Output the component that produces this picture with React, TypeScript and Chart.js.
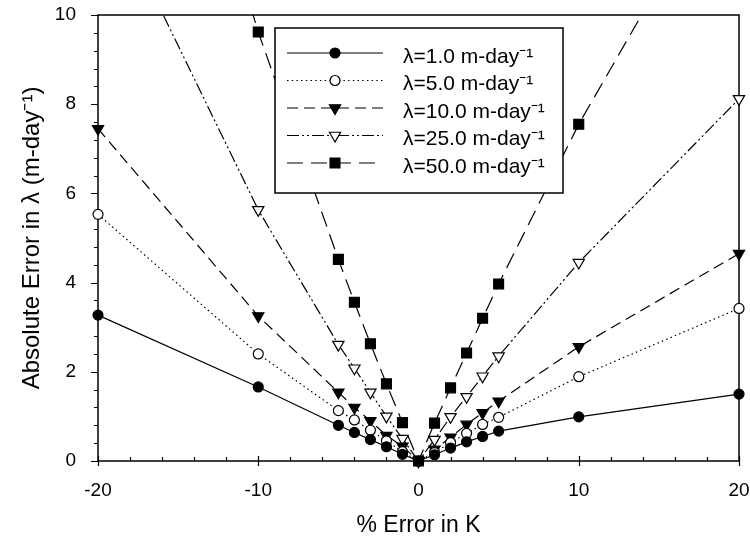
import React, { useEffect, useRef } from "react";
import { Chart, registerables } from "chart.js";

Chart.register(...registerables);

// ---- data ----
const errorK = [-20, -10, -5, -4, -3, -2, -1, 0, 1, 2, 3, 4, 5, 10, 20];
const lambda1 = [3.27, 1.66, 0.8, 0.64, 0.48, 0.32, 0.15, 0, 0.14, 0.29, 0.43, 0.55, 0.67, 0.99, 1.5];
const lambda5 = [5.53, 2.4, 1.13, 0.92, 0.69, 0.45, 0.21, 0, 0.19, 0.41, 0.62, 0.82, 0.98, 1.89, 3.42];
const lambda10 = [7.45, 3.25, 1.54, 1.2, 0.9, 0.57, 0.33, 0, 0.26, 0.53, 0.82, 1.08, 1.34, 2.56, 4.65];
const lambda25 = [13.0, 5.63, 2.61, 2.08, 1.54, 1.0, 0.5, 0, 0.48, 0.99, 1.44, 1.9, 2.35, 4.45, 8.12];
const lambda50 = [21.5, 9.62, 4.52, 3.56, 2.63, 1.73, 0.86, 0, 0.85, 1.64, 2.42, 3.2, 3.97, 7.55, 13.8];
const seriesLabels = [
  "λ=1.0 m-day⁻¹",
  "λ=5.0 m-day⁻¹",
  "λ=10.0 m-day⁻¹",
  "λ=25.0 m-day⁻¹",
  "λ=50.0 m-day⁻¹",
];
const xTickValues = [-20, -10, 0, 10, 20];
const yTickValues = [0, 2, 4, 6, 8, 10];
const xTitle = "% Error in K";
const yTitle = "Absolute Error in λ (m-day⁻¹)";

const FONT = '"Liberation Sans", Arial, Helvetica, sans-serif';

function toPoints(ys: number[]) {
  return errorK.map((x, i) => ({ x, y: ys[i] }));
}

function drawMarker(ctx: CanvasRenderingContext2D, style: string, x: number, y: number, r: number, rot: number, fill: string) {
  ctx.save();
  ctx.fillStyle = fill;
  ctx.strokeStyle = "#000";
  ctx.lineWidth = 1.2;
  ctx.setLineDash([]);
  ctx.beginPath();
  if (style === "circle") {
    ctx.arc(x, y, r, 0, Math.PI * 2);
  } else if (style === "rect") {
    const s = Math.SQRT1_2 * r;
    ctx.rect(x - s, y - s, 2 * s, 2 * s);
  } else if (style === "triangle") {
    let rad = (rot * Math.PI) / 180;
    const step = (2 * Math.PI) / 3;
    ctx.moveTo(x + Math.sin(rad) * r, y - Math.cos(rad) * r);
    rad += step;
    ctx.lineTo(x + Math.sin(rad) * r, y - Math.cos(rad) * r);
    rad += step;
    ctx.lineTo(x + Math.sin(rad) * r, y - Math.cos(rad) * r);
    ctx.closePath();
  }
  ctx.fill();
  ctx.stroke();
  ctx.restore();
}

const framePlugin = {
  id: "frameTicks",
  beforeDatasetsDraw(chart: any) {
    const { ctx, chartArea, scales } = chart;
    const { left, right, top, bottom } = chartArea;
    const xs = scales.x;
    const ys = scales.y;
    ctx.save();
    ctx.strokeStyle = "#000";
    ctx.lineWidth = 1.5;
    ctx.strokeRect(left, top, right - left, bottom - top);
    ctx.lineWidth = 1.2;
    ctx.beginPath();
    for (let v = -20; v <= 20; v += 2) {
      const px = Math.round(xs.getPixelForValue(v)) + 0.5;
      const major = v % 10 === 0;
      ctx.moveTo(px, bottom + (major ? 5 : 0));
      ctx.lineTo(px, bottom - (major ? 5 : 4));
    }
    for (let i = 0; i <= 25; i++) {
      const py = Math.round(ys.getPixelForValue(i * 0.4)) + 0.5;
      const major = i % 5 === 0;
      ctx.moveTo(left - (major ? 7 : 4), py);
      ctx.lineTo(left, py);
    }
    ctx.stroke();
    ctx.restore();
  },
};

const legendPlugin = {
  id: "boxLegend",
  afterDatasetsDraw(chart: any) {
    const { ctx, chartArea } = chart;
    const bx = chartArea.left + 177;
    const by = chartArea.top + 13;
    const bw = 288;
    const bh = 165;
    ctx.save();
    ctx.fillStyle = "#fff";
    ctx.fillRect(bx, by, bw, bh);
    ctx.strokeStyle = "#000";
    ctx.lineWidth = 1.5;
    ctx.strokeRect(bx, by, bw, bh);
    chart.data.datasets.forEach((ds: any, i: number) => {
      const ry = by + 25 + i * 27.5;
      ctx.strokeStyle = "#000";
      ctx.lineWidth = 1.2;
      ctx.setLineDash(ds.borderDash || []);
      ctx.beginPath();
      ctx.moveTo(bx + 12, ry);
      ctx.lineTo(bx + 108, ry);
      ctx.stroke();
      ctx.setLineDash([]);
      drawMarker(ctx, ds.pointStyle, bx + 60, ry, ds.pointRadius, ds.pointRotation || 0, ds.pointBackgroundColor);
      ctx.fillStyle = "#000";
      ctx.font = `21px ${FONT}`;
      ctx.textBaseline = "middle";
      ctx.textAlign = "left";
      ctx.fillText(ds.label, bx + 128, ry + 4);
    });
    ctx.restore();
  },
};

function makeDataset(label: string, ys: number[], dash: number[], style: string, radius: number, rotation: number, fill: string) {
  return {
    label,
    data: toPoints(ys),
    borderColor: "#000",
    borderWidth: 1.2,
    borderDash: dash,
    pointStyle: style,
    pointRadius: radius,
    pointRotation: rotation,
    pointBackgroundColor: fill,
    pointBorderColor: "#000",
    pointBorderWidth: 1.2,
    tension: 0,
    fill: false,
    clip: { left: false, right: false, top: 0, bottom: false },
  };
}

export default function App() {
  const ref = useRef<HTMLCanvasElement>(null);
  useEffect(() => {
    if (!ref.current) return;
    const chart = new Chart(ref.current, {
      type: "line",
      data: {
        datasets: [
          makeDataset(seriesLabels[0], lambda1, [], "circle", 5, 0, "#000"),
          makeDataset(seriesLabels[1], lambda5, [1.5, 3.2], "circle", 5, 0, "#fff"),
          makeDataset(seriesLabels[2], lambda10, [11, 6], "triangle", 6.5, 180, "#000"),
          makeDataset(seriesLabels[3], lambda25, [12, 3, 2, 3, 2, 3], "triangle", 6.5, 180, "#fff"),
          makeDataset(seriesLabels[4], lambda50, [16, 8], "rect", 7, 0, "#000"),
        ] as any,
      },
      options: {
        animation: false,
        responsive: false,
        maintainAspectRatio: false,
        layout: { padding: { top: 15, right: 11, left: 0, bottom: 0 } },
        plugins: { legend: { display: false }, tooltip: { enabled: false } },
        elements: { line: { borderCapStyle: "butt" } },
        scales: {
          x: {
            type: "linear",
            min: -20,
            max: 20,
            afterBuildTicks: (s: any) => {
              s.ticks = xTickValues.map((v) => ({ value: v }));
            },
            afterFit: (s: any) => {
              s.height = 85;
              s.paddingLeft = 0;
              s.paddingRight = 0;
            },
            grid: { display: false, drawTicks: false },
            border: { display: false },
            ticks: { padding: 18, color: "#000", font: { family: FONT, size: 19 }, maxRotation: 0 },
            title: { display: true, text: xTitle, color: "#000", font: { family: FONT, size: 23 }, padding: { top: 0, bottom: 7 } },
          },
          y: {
            type: "linear",
            min: 0,
            max: 10,
            afterBuildTicks: (s: any) => {
              s.ticks = yTickValues.map((v) => ({ value: v }));
            },
            afterFit: (s: any) => {
              s.width = 98;
              s.paddingTop = 0;
              s.paddingBottom = 0;
            },
            grid: { display: false, drawTicks: false },
            border: { display: false },
            ticks: { padding: 22, color: "#000", font: { family: FONT, size: 19 } },
            title: { display: true, text: yTitle, color: "#000", font: { family: FONT, size: 24 }, padding: { top: 18, bottom: 0 } },
          },
        },
      } as any,
      plugins: [framePlugin, legendPlugin],
    });
    return () => chart.destroy();
  }, []);
  return (
    <div style={{ position: "fixed", left: 0, top: 0, width: 750, height: 546, background: "#fff" }}>
      <canvas ref={ref} width={750} height={546} style={{ display: "block" }} />
    </div>
  );
}
